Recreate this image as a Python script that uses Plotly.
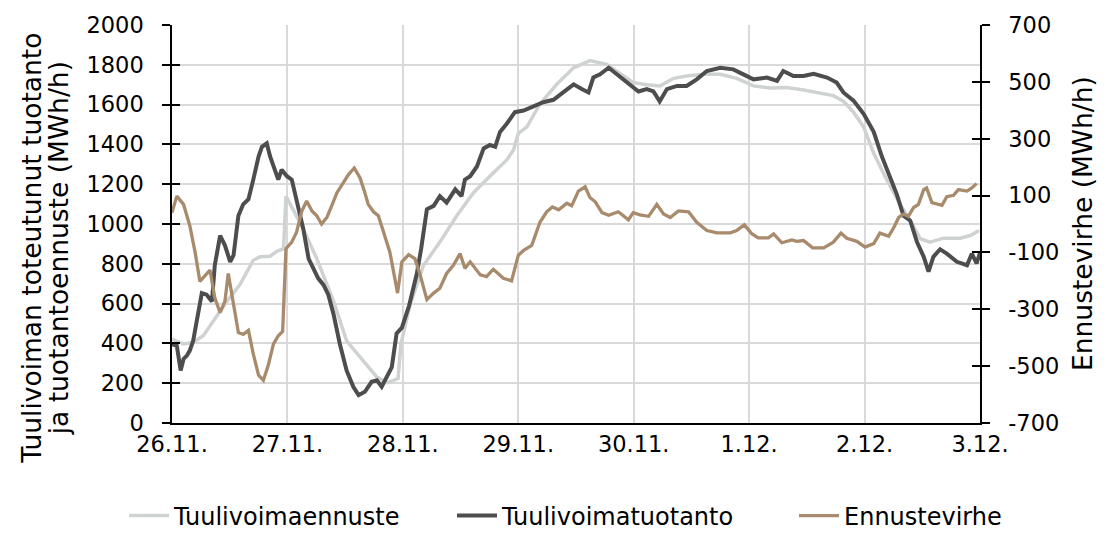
import plotly.graph_objects as go

# ---------------- data (hours from 26.11. 00:00) ----------------
DAY_TICKS_H = [0, 24, 48, 72, 96, 120, 144, 168]
DAY_LABELS = ["26.11.", "27.11.", "28.11.", "29.11.", "30.11.", "1.12.", "2.12.", "3.12."]

LEFT_TICKS = [0, 200, 400, 600, 800, 1000, 1200, 1400, 1600, 1800, 2000]
RIGHT_TICKS = [-700, -500, -300, -100, 100, 300, 500, 700]
RIGHT_TICK_LABELS = ["-700", "-500", "-300", "-100", "100", "300", "500", "700"]

FORECAST_H = [0, 2.4, 4.4, 6.5, 8.6, 11.4, 14.1, 15.5, 16.9, 18.3, 20.4, 21.8, 23.2,
              23.7, 25.2, 27.3, 30.1, 33.6, 36.3, 39.1, 42.6, 44.7, 47.0, 47.6,
              49.5, 52.3, 55.7, 59.2, 62.7, 66.1, 69.6, 71.0, 72.0, 73.8, 76.5,
              80.0, 83.5, 86.9, 90.4, 93.9, 95.9, 98.7, 101.5, 104.3, 107.0, 110.5,
              114.0, 117.4, 120.9, 124.4, 127.8, 131.3, 134.1, 137.5, 139.6, 141.7,
              143.8, 145.9, 148.6, 151.4, 153.5, 155.6, 157.6, 160.4, 163.9, 166.0, 167.8]
FORECAST_MW = [421, 397, 405, 438, 512, 611, 694, 760, 818, 835, 838, 863, 876,
               1140, 1074, 975, 826, 611, 413, 330, 231, 202, 223, 397,
               595, 793, 909, 1041, 1157, 1240, 1322, 1372, 1455, 1488, 1603,
               1702, 1785, 1821, 1802, 1744, 1711, 1700, 1694, 1732, 1744, 1752,
               1752, 1732, 1694, 1683, 1686, 1673, 1661, 1645, 1617, 1562,
               1488, 1355, 1223, 1099, 1017, 926, 909, 929, 929, 942, 967]

PRODUCTION_H = [0, 1.0, 1.8, 2.4, 3.1, 3.7, 4.4, 5.1, 6.2, 7.2, 8.3, 8.9, 10.0, 11.0,
                12.1, 12.8, 13.8, 14.8, 15.9, 16.9, 18.0, 18.7, 19.7, 20.4, 21.4,
                22.1, 22.8, 23.9, 24.9, 25.9, 27.3, 28.4, 29.4, 30.4, 31.5, 32.5,
                33.6, 34.9, 36.3, 37.7, 38.8, 40.1, 41.5, 42.6, 43.6, 44.7, 45.7,
                46.7, 47.8, 49.3, 50.9, 51.8, 53.0, 54.4, 55.7, 57.1, 58.9, 60.2,
                60.9, 62.0, 63.4, 64.8, 66.1, 67.2, 68.2, 69.6, 71.3, 73.1, 75.2,
                77.2, 79.3, 81.4, 83.5, 85.2, 86.6, 87.6, 89.0, 90.8, 92.5, 94.6,
                95.3, 97.0, 98.7, 100.1, 101.4, 102.9, 105.0, 107.0, 109.1, 111.2,
                114.0, 116.7, 118.8, 120.9, 123.7, 125.8, 127.1, 129.2, 131.3,
                133.4, 136.2, 138.2, 139.6, 141.7, 143.8, 145.9, 147.6, 149.3,
                150.7, 152.1, 153.5, 154.9, 156.3, 157.3, 158.3, 159.7, 161.1,
                163.2, 165.3, 166.3, 167.3, 168.0]
PRODUCTION_MW = [397, 388, 264, 322, 339, 364, 413, 512, 653, 645, 611, 793, 942, 893,
                 810, 843, 1041, 1099, 1124, 1223, 1339, 1388, 1405, 1339, 1273,
                 1223, 1273, 1240, 1223, 1124, 975, 826, 777, 727, 694, 645,
                 545, 397, 264, 182, 140, 157, 207, 215, 182, 240, 281,
                 450, 479, 590, 750, 875, 1074, 1091, 1140, 1107, 1174, 1140,
                 1223, 1240, 1289, 1380, 1397, 1388, 1463, 1504, 1562, 1570, 1590,
                 1612, 1624, 1661, 1702, 1678, 1661, 1736, 1752, 1785, 1752, 1711,
                 1702, 1666, 1678, 1666, 1616, 1678, 1694, 1694, 1727, 1769,
                 1785, 1777, 1752, 1727, 1736, 1719, 1769, 1744, 1744,
                 1755, 1736, 1711, 1661, 1620, 1554, 1463, 1339, 1240,
                 1149, 1041, 1017, 909, 835, 760, 835, 873, 851,
                 810, 793, 851, 802, 856]

ERROR_H = [0, 1.0, 2.4, 3.7, 4.8, 5.8, 7.9, 8.9, 10.0, 11.0, 11.7, 12.8, 13.8, 14.8,
           15.9, 16.9, 18.0, 19.0, 20.0, 21.1, 22.1, 23.0, 23.7, 24.9, 25.9, 27.0,
           28.0, 29.1, 30.1, 31.1, 32.2, 33.2, 34.3, 35.6, 36.7, 37.9, 39.1, 40.1,
           40.8, 41.9, 42.9, 44.0, 45.3, 46.9, 47.8, 49.2, 50.5, 51.6, 53.0, 54.4,
           55.7, 57.1, 58.5, 59.9, 60.9, 62.0, 64.1, 65.4, 66.8, 68.9, 70.6, 72.0,
           73.1, 74.8, 76.5, 77.9, 79.1, 80.4, 82.1, 83.1, 84.5, 85.9, 86.9, 88.0,
           89.4, 90.8, 92.8, 94.9, 95.9, 97.3, 99.1, 100.8, 102.2, 103.6, 105.3,
           107.4, 109.1, 111.2, 113.3, 116.1, 117.4, 119.0, 120.6, 121.9, 124.0,
           125.1, 126.8, 128.9, 129.9, 131.3, 133.2, 135.5, 137.5, 139.1, 140.3,
           142.4, 144.1, 145.9, 147.2, 149.0, 150.0, 151.1, 152.1, 153.1, 154.2,
           155.2, 156.3, 156.9, 158.0, 160.1, 161.1, 162.5, 163.5, 165.3, 166.3, 167.3]
ERROR_MW = [40, 98, 69, -6, -99, -202, -162, -260, -312, -272, -174, -283, -382, -388,
            -374, -457, -532, -550, -498, -422, -393, -378, -87, -64, -29, 46,
            81, 46, 29, 0, 23, 64, 110, 145, 174, 197, 162, 110,
            69, 43, 29, -29, -99, -243, -133, -108, -122, -179, -266, -243,
            -226, -174, -145, -104, -156, -133, -179, -185, -159, -191, -200, -110,
            -93, -75, 6, 43, 60, 50, 73, 64, 116, 131, 93, 78,
            40, 31, 43, 15, 40, 32, 27, 69, 35, 23, 46,
            43, 6, -23, -31, -31, -23, -3, -35, -49, -49,
            -35, -66, -56, -61, -58, -84, -84, -64, -32, -50,
            -61, -81, -69, -32, -43, -15, 23, 35, 27, 58,
            69, 121, 127, 75, 66, 96, 101, 121, 116, 127, 142]

SERIES_NAMES = ["Tuulivoimaennuste", "Tuulivoimatuotanto", "Ennustevirhe"]
LEFT_TITLE_LINES = ["Tuulivoiman toteutunut tuotanto", "ja tuotantoennuste (MWh/h)"]
RIGHT_TITLE = "Ennustevirhe (MWh/h)"

# ---------------- figure ----------------
FONT = "DejaVu Sans, Verdana, sans-serif"
FS = 22.5
FS_LEG = 24
FS_TITLE = 26.5
GRID = "#d9d9d9"

fig = go.Figure()
fig.add_trace(go.Scatter(x=FORECAST_H, y=FORECAST_MW, name=SERIES_NAMES[0], mode="lines",
                         line=dict(color="#cfd2d2", width=3.5), yaxis="y", legend="legend"))
fig.add_trace(go.Scatter(x=PRODUCTION_H, y=PRODUCTION_MW, name=SERIES_NAMES[1], mode="lines",
                         line=dict(color="#4d4d4d", width=4), yaxis="y", legend="legend2"))
fig.add_trace(go.Scatter(x=ERROR_H, y=ERROR_MW, name=SERIES_NAMES[2], mode="lines",
                         line=dict(color="#a88a6c", width=3.3), yaxis="y2", legend="legend3"))
# helper traces so the inner-tick axes are drawn
fig.add_trace(go.Scatter(x=[], y=[], yaxis="y3", showlegend=False, hoverinfo="skip"))
fig.add_trace(go.Scatter(x=[], y=[], yaxis="y4", showlegend=False, hoverinfo="skip"))

common_tick = dict(tickfont=dict(family=FONT, size=FS, color="black"))


def legend_at(xpx):
    return dict(orientation="h", xref="container", yref="container",
                x=xpx / 1114, xanchor="left", y=17 / 533, yanchor="middle",
                font=dict(family=FONT, size=FS_LEG, color="black"),
                itemwidth=40, bgcolor="rgba(0,0,0,0)")


fig.update_layout(
    width=1114, height=533,
    margin=dict(l=172, r=134, t=20, b=110),
    paper_bgcolor="white", plot_bgcolor="white",
    font=dict(family=FONT, size=FS, color="black"),
    showlegend=True,
    legend=legend_at(124),
    legend2=legend_at(452),
    legend3=legend_at(794),
    xaxis=dict(range=[0, 168], tickvals=DAY_TICKS_H, ticktext=DAY_LABELS,
               showgrid=True, gridcolor=GRID, gridwidth=1.5,
               showline=True, linecolor="black", linewidth=2,
               ticks="", zeroline=False, **common_tick),
    yaxis=dict(range=[0, 2000], tickvals=LEFT_TICKS, showgrid=True, gridcolor=GRID,
               gridwidth=1.5, showline=True, linecolor="black", linewidth=1.5,
               ticks="outside", ticklen=8, tickwidth=1.5, tickcolor="black",
               ticklabelstandoff=14, zeroline=False, **common_tick),
    yaxis2=dict(range=[-700, 700], tickvals=RIGHT_TICKS, ticktext=RIGHT_TICK_LABELS,
                overlaying="y", side="right",
                showgrid=False, showline=True, linecolor="black", linewidth=1.5,
                ticks="outside", ticklen=8, tickwidth=1.5, tickcolor="black",
                ticklabelstandoff=14, zeroline=False, **common_tick),
    yaxis3=dict(range=[0, 2000], tickvals=LEFT_TICKS, overlaying="y", side="left",
                showgrid=False, showline=False, showticklabels=False,
                ticks="inside", ticklen=8, tickwidth=1.5, tickcolor="black", zeroline=False),
    yaxis4=dict(range=[-700, 700], tickvals=RIGHT_TICKS, overlaying="y", side="right",
                showgrid=False, showline=False, showticklabels=False,
                ticks="inside", ticklen=8, tickwidth=1.5, tickcolor="black", zeroline=False),
    annotations=[
        dict(text=LEFT_TITLE_LINES[0], xref="paper", yref="paper", x=-0.174, xanchor="center",
             y=0.439, yanchor="middle", textangle=-90, showarrow=False,
             font=dict(family=FONT, size=FS_TITLE, color="black")),
        dict(text=LEFT_TITLE_LINES[1], xref="paper", yref="paper", x=-0.141, xanchor="center",
             y=0.439, yanchor="middle", textangle=-90, showarrow=False,
             font=dict(family=FONT, size=FS_TITLE, color="black")),
        dict(text=RIGHT_TITLE, xref="paper", yref="paper", x=1.1262, xanchor="center",
             y=0.5025, yanchor="middle", textangle=-90, showarrow=False,
             font=dict(family=FONT, size=FS_TITLE, color="black")),
    ],
)

fig.write_html("out.html", config={"displayModeBar": False},
               post_script="document.body.style.margin='0px';")
